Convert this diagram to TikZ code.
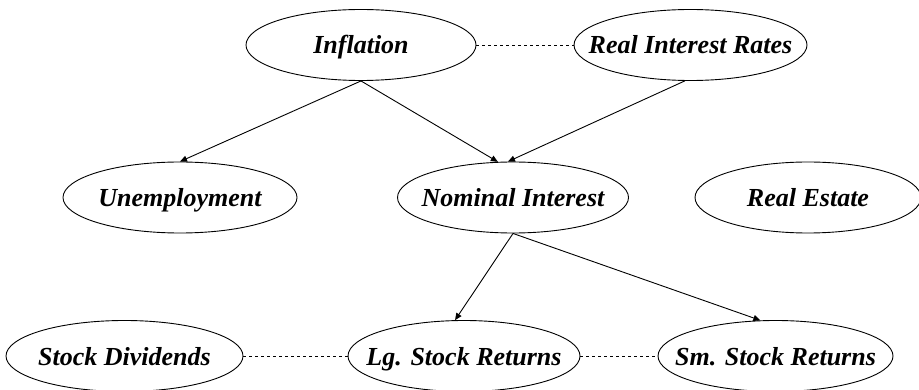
\documentclass[tikz,border=0pt]{standalone}
\usepackage{fontspec}
\setmainfont{Liberation Serif}
\usetikzlibrary{shapes.geometric,arrows.meta}
\begin{document}
\begin{tikzpicture}[x=1pt,y=-1pt,
  var/.style={draw=black,line width=0.9pt,ellipse,inner sep=0pt,minimum height=71pt,
    text height=18pt,text depth=0pt,
    font=\fontsize{26}{30}\selectfont\bfseries\itshape},
  dep/.style={draw=black,line width=0.9pt,-{Triangle[length=7pt,width=6pt]}},
  assoc/.style={draw=black,line width=0.9pt,dash pattern=on 3pt off 3pt}]
\useasboundingbox (0,0) rectangle (919,390);
\node[var,minimum width=230pt] (inf) at (361,45) {\makebox[0pt]{Inflation}};
\node[var,minimum width=233pt] (ri) at (690.5,45) {\makebox[0pt]{Real Interest Rates}};
\node[var,minimum width=234pt] (un) at (180,197.5) {\makebox[0pt]{Unemployment}};
\node[var,minimum width=231pt] (nom) at (513,197.5) {\makebox[0pt]{Nominal Interest}};
\node[var,minimum width=226pt] (re) at (808,197.5) {\makebox[0pt]{Real Estate}};
\node[var,minimum width=237pt] (sd) at (124.5,356) {\makebox[0pt]{Stock Dividends}};
\node[var,minimum width=232pt] (lg) at (464,356) {\makebox[0pt]{Lg. Stock Returns}};
\node[var,minimum width=235pt] (sm) at (775.5,356) {\makebox[0pt]{Sm. Stock Returns}};
\draw[assoc] (inf.east) -- (ri.west);
\draw[assoc] (sd.east) -- (lg.west);
\draw[assoc] (lg.east) -- (sm.west);
\draw[dep] (inf.south) -- (un.north);
\draw[dep] (inf.south) -- (nom.113);
\draw[dep] (ri.261) -- (nom.98);
\draw[dep] (nom.south) -- (lg.104);
\draw[dep] (nom.south) -- (sm.113);
\end{tikzpicture}
\end{document}
